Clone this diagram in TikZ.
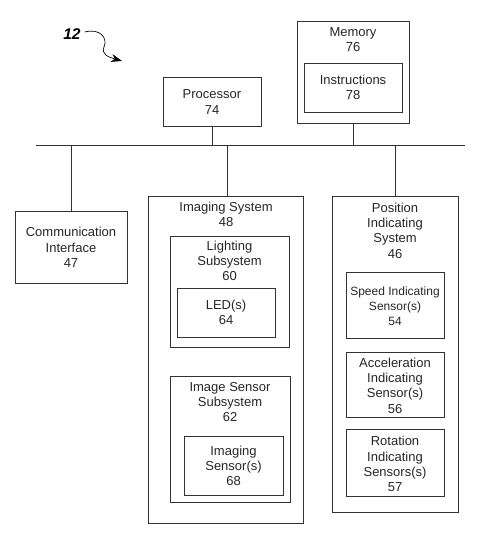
\documentclass[tikz,border=0pt]{standalone}
\usepackage{fontspec}
\setmainfont{Liberation Sans}
\usetikzlibrary{arrows.meta}
\begin{document}
\begin{tikzpicture}[x=1pt,y=-1pt,
  line/.style={draw=black!80, line width=0.9pt},
  lbl/.style={align=center, inner sep=0pt, text=black!85, font=\fontsize{13}{15.3}\selectfont},
  sm/.style={font=\fontsize{12}{15}\selectfont}]
\useasboundingbox (0,0) rectangle (486,548);
\newcommand\mybox[5]{\path[line] (#2,#3) rectangle (#4,#5); \coordinate (#1-nw) at (#2,#3); \coordinate (#1-se) at (#4,#5);
  \node[inner sep=0pt, minimum width=#4pt-#2pt, minimum height=#5pt-#3pt] (#1) at ({(#2+#4)/2},{(#3+#5)/2}) {};}
% boxes
\mybox{mem}{297}{21}{409}{123}
\mybox{instr}{304}{63}{402}{112}
\mybox{proc}{163}{77}{261}{126}
\mybox{comm}{15}{211}{127}{283}
\mybox{imgsys}{148}{196}{303}{523}
\mybox{light}{170}{236}{289}{347}
\mybox{led}{177}{288}{275}{337}
\mybox{iss}{170}{376}{290}{502}
\mybox{isens}{184}{436}{283}{495}
\mybox{pos}{332}{196}{458}{512}
\mybox{speed}{346}{272}{444}{338}
\mybox{accel}{346}{352}{444}{417}
\mybox{rot}{346}{429}{444}{496}
% labels
\node[lbl] (memL) at (353,39.5) {Memory\\76};
\node[lbl] (instrL) at (353,87.5) {Instructions\\78};
\node[lbl] (procL) at (212,102) {Processor\\74};
\node[lbl] (commL) at (71,247.5) {Communication\\Interface\\47};
\node[lbl] (imgL) at (226,214.5) {Imaging System\\48};
\node[lbl] (lightL) at (229.5,261) {Lighting\\Subsystem\\60};
\node[lbl] (ledL) at (226,312.5) {LED(s)\\64};
\node[lbl] (issL) at (230,402) {Image Sensor\\Subsystem\\62};
\node[lbl] (isensL) at (233.5,466) {Imaging\\Sensor(s)\\68};
\node[lbl] (posL) at (395,230.5) {Position\\Indicating\\System\\46};
\node[lbl,sm] (speedL) at (395,306.5) {Speed Indicating\\Sensor(s)\\54};
\node[lbl] (accelL) at (395,385.5) {Acceleration\\Indicating\\Sensor(s)\\56};
\node[lbl] (rotL) at (395,464) {Rotation\\Indicating\\Sensors(s)\\57};
% bus
\coordinate (busL) at (36,145);
\coordinate (busR) at (465,145);
\draw[line] (busL) -- (busR);
\draw[line] (proc.south) -- (proc.south |- busL);
\draw[line] (mem.south) -- (mem.south |- busL);
\draw[line] (comm.north) -- (comm.north |- busL);
\draw[line] (227,196) -- (227,145);
\draw[line] (pos.north) -- (pos.north |- busL);
% reference label
\node[inner sep=0pt, font=\bfseries\itshape\fontsize{15.5}{17}\selectfont] (lab12) at (72,34) {12};
\coordinate (tip12) at (122,61);
\draw[line width=0.7pt, -{Stealth[length=11pt,width=8pt]}] (lab12.east) ++(4,-2) .. controls (100,28) and (108,38) .. (104,47) .. controls (101,54) and (108,57) .. (tip12);
\end{tikzpicture}
\end{document}
